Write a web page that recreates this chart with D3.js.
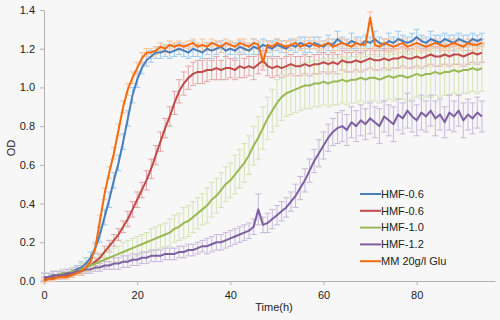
<!DOCTYPE html>
<html>
<head>
<meta charset="utf-8">
<script src="https://cdnjs.cloudflare.com/ajax/libs/d3/7.8.5/d3.min.js"></script>
<style>
  body { margin: 0; background: #f7f7f7; }
  svg { display: block; }
  text { font-family: "Liberation Sans", Arial, sans-serif; fill: #222; }
</style>
</head>
<body>
<div id="chart"></div>
<script>
// time points (h)
const hours = [0,1,2,3,4,5,6,7,8,9,10,11,12,13,14,15,16,17,18,19,20,21,22,23,24,25,26,27,28,29,
  30,31,32,33,34,35,36,37,38,39,40,41,42,43,44,45,46,47,48,49,50,51,52,53,54,55,56,57,58,59,
  60,61,62,63,64,65,66,67,68,69,70,71,72,73,74,75,76,77,78,79,80,81,82,83,84,85,86,87,88,89,
  90,91,92,93,94];

const seriesNames = ["HMF-0.6", "HMF-0.6", "HMF-1.0", "HMF-1.2", "MM 20g/l Glu"];

// mean OD values
const hmf06a = [0.02,0.02,0.03,0.03,0.04,0.04,0.05,0.06,0.07,0.09,
  0.12,0.17,0.24,0.33,0.42,0.52,0.61,0.72,0.84,0.96,
  1.04,1.10,1.14,1.16,1.18,1.18,1.19,1.18,1.19,1.20,
  1.19,1.18,1.20,1.19,1.18,1.20,1.19,1.20,1.21,1.19,
  1.20,1.19,1.21,1.20,1.19,1.21,1.20,1.22,1.21,1.20,
  1.22,1.21,1.20,1.22,1.21,1.23,1.22,1.21,1.23,1.22,
  1.21,1.23,1.22,1.25,1.23,1.22,1.24,1.23,1.22,1.24,
  1.23,1.25,1.23,1.22,1.24,1.23,1.25,1.24,1.23,1.24,
  1.26,1.24,1.23,1.25,1.24,1.23,1.25,1.24,1.23,1.25,
  1.24,1.23,1.25,1.24,1.25];
const hmf06b = [0.01,0.01,0.02,0.02,0.03,0.03,0.04,0.05,0.06,0.07,
  0.08,0.10,0.12,0.15,0.18,0.21,0.24,0.28,0.32,0.37,
  0.42,0.47,0.52,0.58,0.65,0.72,0.79,0.85,0.92,0.98,
  1.02,1.05,1.07,1.08,1.08,1.09,1.09,1.10,1.09,1.10,
  1.10,1.09,1.11,1.10,1.11,1.10,1.12,1.14,1.11,1.10,
  1.11,1.10,1.11,1.12,1.11,1.11,1.12,1.11,1.12,1.12,
  1.13,1.12,1.13,1.12,1.14,1.13,1.13,1.14,1.13,1.14,
  1.15,1.14,1.14,1.15,1.14,1.15,1.15,1.16,1.15,1.15,
  1.16,1.15,1.16,1.17,1.16,1.16,1.17,1.16,1.17,1.17,
  1.16,1.17,1.18,1.17,1.18];
const hmf10 = [0.02,0.02,0.03,0.03,0.04,0.04,0.05,0.05,0.06,0.07,
  0.08,0.09,0.10,0.11,0.12,0.13,0.14,0.15,0.16,0.17,
  0.18,0.19,0.20,0.21,0.22,0.23,0.24,0.25,0.27,0.28,
  0.30,0.31,0.33,0.35,0.37,0.39,0.42,0.44,0.47,0.50,
  0.52,0.55,0.58,0.61,0.65,0.70,0.74,0.79,0.84,0.88,
  0.92,0.95,0.97,0.98,0.99,1.00,1.01,1.01,1.02,1.02,
  1.03,1.02,1.03,1.03,1.04,1.03,1.04,1.04,1.05,1.04,
  1.05,1.05,1.04,1.05,1.06,1.05,1.06,1.06,1.05,1.06,
  1.07,1.06,1.07,1.07,1.08,1.07,1.08,1.08,1.09,1.08,
  1.09,1.09,1.10,1.09,1.10];
const hmf12 = [0.02,0.02,0.03,0.03,0.03,0.04,0.04,0.05,0.05,0.06,
  0.06,0.07,0.07,0.08,0.08,0.09,0.09,0.10,0.10,0.11,
  0.11,0.12,0.12,0.13,0.13,0.13,0.14,0.14,0.14,0.15,
  0.15,0.16,0.16,0.17,0.18,0.18,0.19,0.20,0.20,0.21,
  0.22,0.23,0.24,0.25,0.26,0.28,0.37,0.29,0.30,0.32,
  0.34,0.36,0.38,0.41,0.44,0.48,0.52,0.57,0.62,0.66,
  0.70,0.74,0.77,0.79,0.80,0.78,0.82,0.80,0.83,0.81,
  0.84,0.82,0.80,0.85,0.83,0.81,0.86,0.84,0.88,0.85,
  0.83,0.87,0.85,0.88,0.84,0.86,0.82,0.87,0.85,0.88,
  0.83,0.86,0.84,0.87,0.85];
const mmGlu = [0.00,0.01,0.01,0.02,0.02,0.02,0.03,0.04,0.05,0.07,
  0.10,0.17,0.31,0.45,0.56,0.66,0.78,0.90,0.99,1.05,
  1.10,1.15,1.18,1.18,1.19,1.21,1.20,1.22,1.21,1.22,
  1.21,1.22,1.23,1.21,1.22,1.21,1.23,1.22,1.21,1.23,
  1.22,1.21,1.23,1.22,1.21,1.23,1.22,1.13,1.22,1.21,
  1.23,1.22,1.21,1.22,1.23,1.21,1.22,1.23,1.22,1.21,
  1.22,1.23,1.21,1.22,1.23,1.22,1.21,1.23,1.22,1.22,
  1.36,1.22,1.21,1.23,1.22,1.21,1.22,1.23,1.21,1.22,
  1.23,1.22,1.21,1.22,1.23,1.22,1.21,1.22,1.23,1.22,
  1.21,1.23,1.22,1.22,1.23];

// error bar half-widths
const hmf06aErr = [0.02,0.02,0.02,0.02,0.02,0.02,0.02,0.02,0.03,0.03,
  0.03,0.03,0.04,0.04,0.04,0.04,0.04,0.04,0.04,0.04,
  0.04,0.03,0.03,0.03,0.03,0.03,0.03,0.03,0.03,0.03,
  0.03,0.03,0.04,0.03,0.03,0.03,0.04,0.03,0.03,0.03,
  0.03,0.04,0.03,0.03,0.03,0.04,0.03,0.03,0.03,0.04,
  0.03,0.03,0.04,0.03,0.03,0.03,0.04,0.03,0.03,0.04,
  0.03,0.04,0.03,0.04,0.03,0.03,0.04,0.03,0.04,0.03,
  0.03,0.04,0.03,0.03,0.04,0.03,0.04,0.03,0.03,0.04,
  0.04,0.03,0.03,0.04,0.03,0.04,0.03,0.03,0.04,0.03,
  0.03,0.04,0.03,0.03,0.03];
const hmf06bErr = [0.01,0.01,0.01,0.01,0.01,0.01,0.02,0.02,0.02,0.02,
  0.02,0.02,0.02,0.03,0.03,0.03,0.03,0.03,0.04,0.04,
  0.04,0.04,0.05,0.05,0.05,0.05,0.05,0.05,0.06,0.06,
  0.06,0.06,0.06,0.06,0.06,0.06,0.05,0.06,0.05,0.06,
  0.05,0.05,0.06,0.05,0.05,0.06,0.05,0.05,0.05,0.05,
  0.05,0.05,0.05,0.05,0.05,0.05,0.05,0.05,0.05,0.05,
  0.05,0.05,0.05,0.05,0.05,0.05,0.05,0.05,0.05,0.05,
  0.05,0.05,0.05,0.05,0.05,0.05,0.05,0.05,0.05,0.05,
  0.05,0.05,0.05,0.05,0.05,0.05,0.05,0.05,0.05,0.05,
  0.05,0.05,0.05,0.05,0.05];
const hmf10Err = [0.02,0.02,0.02,0.02,0.02,0.02,0.02,0.02,0.03,0.03,
  0.03,0.03,0.03,0.04,0.04,0.04,0.04,0.05,0.05,0.05,
  0.05,0.05,0.05,0.06,0.06,0.06,0.06,0.07,0.07,0.07,
  0.08,0.08,0.08,0.08,0.08,0.09,0.09,0.09,0.09,0.09,
  0.09,0.10,0.10,0.10,0.10,0.10,0.11,0.11,0.11,0.11,
  0.12,0.12,0.12,0.12,0.12,0.12,0.12,0.12,0.12,0.12,
  0.12,0.12,0.12,0.12,0.12,0.12,0.12,0.12,0.12,0.12,
  0.12,0.12,0.12,0.12,0.12,0.12,0.12,0.12,0.12,0.12,
  0.12,0.12,0.12,0.12,0.12,0.12,0.12,0.12,0.12,0.12,
  0.12,0.12,0.12,0.12,0.12];
const hmf12Err = [0.02,0.02,0.02,0.02,0.02,0.02,0.02,0.02,0.02,0.02,
  0.02,0.02,0.02,0.02,0.02,0.03,0.03,0.03,0.03,0.03,
  0.03,0.03,0.03,0.03,0.03,0.03,0.03,0.03,0.03,0.03,
  0.03,0.03,0.03,0.03,0.03,0.04,0.04,0.04,0.04,0.04,
  0.04,0.04,0.04,0.04,0.04,0.04,0.08,0.04,0.05,0.05,
  0.05,0.05,0.05,0.05,0.06,0.06,0.06,0.06,0.06,0.07,
  0.07,0.07,0.07,0.08,0.08,0.08,0.08,0.08,0.08,0.08,
  0.08,0.08,0.09,0.08,0.08,0.09,0.08,0.08,0.09,0.08,
  0.08,0.09,0.08,0.08,0.09,0.08,0.08,0.09,0.08,0.08,
  0.09,0.08,0.08,0.08,0.08];
const mmGluErr = [0.01,0.01,0.01,0.01,0.01,0.01,0.01,0.01,0.02,0.02,
  0.02,0.02,0.03,0.03,0.03,0.03,0.03,0.03,0.03,0.03,
  0.03,0.03,0.02,0.02,0.02,0.02,0.02,0.02,0.02,0.02,
  0.02,0.02,0.02,0.02,0.03,0.02,0.02,0.02,0.03,0.02,
  0.02,0.02,0.02,0.03,0.02,0.02,0.02,0.02,0.02,0.02,
  0.02,0.02,0.03,0.02,0.02,0.02,0.02,0.03,0.02,0.02,
  0.02,0.02,0.02,0.03,0.02,0.02,0.02,0.02,0.02,0.02,
  0.03,0.02,0.02,0.02,0.03,0.02,0.02,0.02,0.02,0.02,
  0.02,0.03,0.02,0.02,0.02,0.02,0.02,0.03,0.02,0.02,
  0.02,0.02,0.03,0.02,0.02];

const xTicks = [0, 20, 40, 60, 80];
const yTicks = [0, 0.2, 0.4, 0.6, 0.8, 1.0, 1.2, 1.4];

const lineColors = ["#4a7ebb", "#be4b48", "#98b954", "#7d60a0", "#f26b0f"];
const errColors = ["#9ccbf2", "#e2a6a5", "#d3e3b5", "#c8b8da", "#f9c39b"];

const allSeries = [
  {name: seriesNames[0], values: hmf06a, err: hmf06aErr},
  {name: seriesNames[1], values: hmf06b, err: hmf06bErr},
  {name: seriesNames[2], values: hmf10, err: hmf10Err},
  {name: seriesNames[3], values: hmf12, err: hmf12Err},
  {name: seriesNames[4], values: mmGlu, err: mmGluErr}
];

const W = 500, H = 320;

const svg = d3.select("#chart")
  .append("svg")
    .attr("width", W)
    .attr("height", H);

svg.append("rect").attr("width", W).attr("height", H).attr("fill", "#f7f7f7");

const x = d3.scaleLinear().domain([0, 96.8]).range([44, 495]);
const y = d3.scaleLinear().domain([0, 1.4]).range([281, 10]);

// axes
const yAxis = svg.append("g")
  .attr("transform", "translate(44,0)")
  .call(d3.axisLeft(y).tickValues(yTicks).tickFormat(d3.format(".1f")).tickSize(4).tickSizeOuter(0));

const xAxis = svg.append("g")
  .attr("transform", "translate(0,281)")
  .call(d3.axisBottom(x).tickValues(xTicks).tickSize(4).tickSizeOuter(0));

[xAxis, yAxis].forEach(g => {
  g.select(".domain").attr("stroke", "#b3b3b3");
  g.selectAll(".tick line").attr("stroke", "#b3b3b3");
  g.selectAll(".tick text")
    .attr("fill", "#222")
    .style("font-family", "'Liberation Sans', Arial, sans-serif")
    .style("font-size", "11px");
});
yAxis.selectAll(".tick text").attr("x", -9);
xAxis.selectAll(".tick text").attr("y", 10);

// error bars
const capW = 3;
allSeries.forEach((s, k) => {
  const g = svg.append("g")
    .attr("stroke", errColors[k])
    .attr("stroke-width", 1);
  const pts = hours.map((h, i) => ({h: h, v: s.values[i], e: s.err[i]}));
  g.selectAll("line.v").data(pts).join("line")
    .attr("x1", d => x(d.h)).attr("x2", d => x(d.h))
    .attr("y1", d => y(d.v - d.e)).attr("y2", d => y(d.v + d.e));
  g.selectAll("line.top").data(pts).join("line")
    .attr("x1", d => x(d.h) - capW).attr("x2", d => x(d.h) + capW)
    .attr("y1", d => y(d.v + d.e)).attr("y2", d => y(d.v + d.e));
  g.selectAll("line.bot").data(pts).join("line")
    .attr("x1", d => x(d.h) - capW).attr("x2", d => x(d.h) + capW)
    .attr("y1", d => y(d.v - d.e)).attr("y2", d => y(d.v - d.e));
});

// lines
const line = d3.line()
  .x((d, i) => x(hours[i]))
  .y(d => y(d));

svg.selectAll("path.series")
  .data(allSeries)
  .join("path")
    .attr("class", "series")
    .attr("fill", "none")
    .attr("stroke", (d, i) => lineColors[i])
    .attr("stroke-width", 2)
    .attr("stroke-linejoin", "round")
    .attr("d", d => line(d.values));

// axis titles
svg.append("text")
  .attr("x", 274).attr("y", 311)
  .attr("text-anchor", "middle")
  .style("font-size", "11px")
  .text("Time(h)");

svg.append("text")
  .attr("transform", "translate(15,148) rotate(-90)")
  .attr("text-anchor", "middle")
  .style("font-size", "11px")
  .text("OD");

// legend
const legend = svg.append("g").attr("transform", "translate(360,194)");
const rowH = 16.8;
legend.selectAll("line")
  .data(allSeries)
  .join("line")
    .attr("x1", 0).attr("x2", 21)
    .attr("y1", (d, i) => i * rowH).attr("y2", (d, i) => i * rowH)
    .attr("stroke", (d, i) => lineColors[i])
    .attr("stroke-width", 2);
legend.selectAll("text")
  .data(allSeries)
  .join("text")
    .attr("x", 21)
    .attr("y", (d, i) => i * rowH)
    .attr("dy", "0.35em")
    .style("font-size", "11px")
    .text(d => d.name);
</script>
</body>
</html>
